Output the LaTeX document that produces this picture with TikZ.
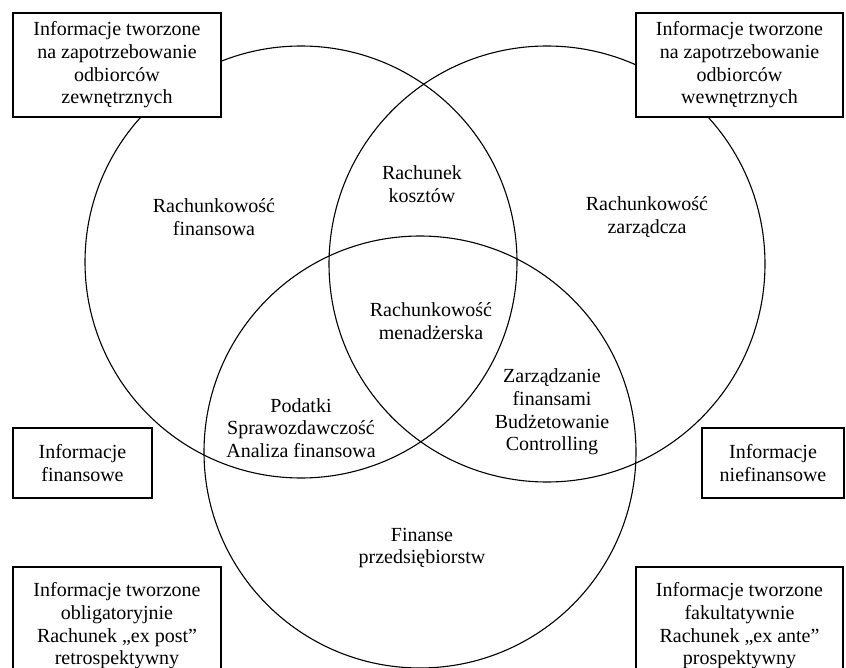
\documentclass[tikz,border=0pt]{standalone}
\usepackage{fontspec}
\setmainfont{Liberation Serif}
\begin{document}
\begin{tikzpicture}[x=1pt,y=-1pt,
  ring/.style={circle, draw, line width=1.1pt, minimum size=#1, inner sep=0pt},
  infobox/.style={draw, fill=white, line width=1.1pt, align=center, inner sep=0pt,
    font=\fontsize{20}{22.6}\selectfont},
  lbl/.style={align=center, inner sep=0pt, font=\fontsize{20}{22.6}\selectfont}]
\useasboundingbox (0,0) rectangle (846,668);
\clip (0,0) rectangle (846,668);

% three overlapping circles
\node[ring=432pt] (fin) at (301,262) {};
\node[ring=436pt] (zarz) at (547,264) {};
\node[ring=432pt] (przed) at (420,452) {};

% labels of the circles and their intersections
\node[lbl] (rk) at (422,184) {Rachunek\\kosztów};
\node[lbl] (rf) at (214,217) {Rachunkowość\\finansowa};
\node[lbl] (rz) at (647,217) {Rachunkowość\\zarządcza};
\node[lbl] (rm) at (431,321) {Rachunkowość\\menadżerska};
\node[lbl] (pod) at (301,428) {Podatki\\Sprawozdawczość\\Analiza finansowa};
\node[lbl] (zf) at (552,412) {Zarządzanie\\finansami\\Budżetowanie\\Controlling};
\node[lbl] (fp) at (422,548) {Finanse\\przedsiębiorstw};

% information boxes, drawn over the circles
\node[infobox, minimum width=208pt, minimum height=104pt] (ext) at (117,65)
  {Informacje tworzone\\na zapotrzebowanie\\odbiorców\\zewnętrznych};
\node[infobox, minimum width=207pt, minimum height=104pt] (int) at (739.5,65)
  {Informacje tworzone\\na zapotrzebowanie\\odbiorców\\wewnętrznych};
\node[infobox, minimum width=139pt, minimum height=70pt] (ifin) at (82.5,463)
  {Informacje\\finansowe};
\node[infobox, minimum width=142pt, minimum height=70pt] (inf) at (773,463)
  {Informacje\\niefinansowe};
\node[infobox, minimum width=208pt, minimum height=118pt] (obl) at (117,626)
  {Informacje tworzone\\obligatoryjnie\\Rachunek „ex post”\\retrospektywny};
\node[infobox, minimum width=207pt, minimum height=118pt] (fak) at (739.5,626)
  {Informacje tworzone\\fakultatywnie\\Rachunek „ex ante”\\prospektywny};
\end{tikzpicture}
\end{document}
